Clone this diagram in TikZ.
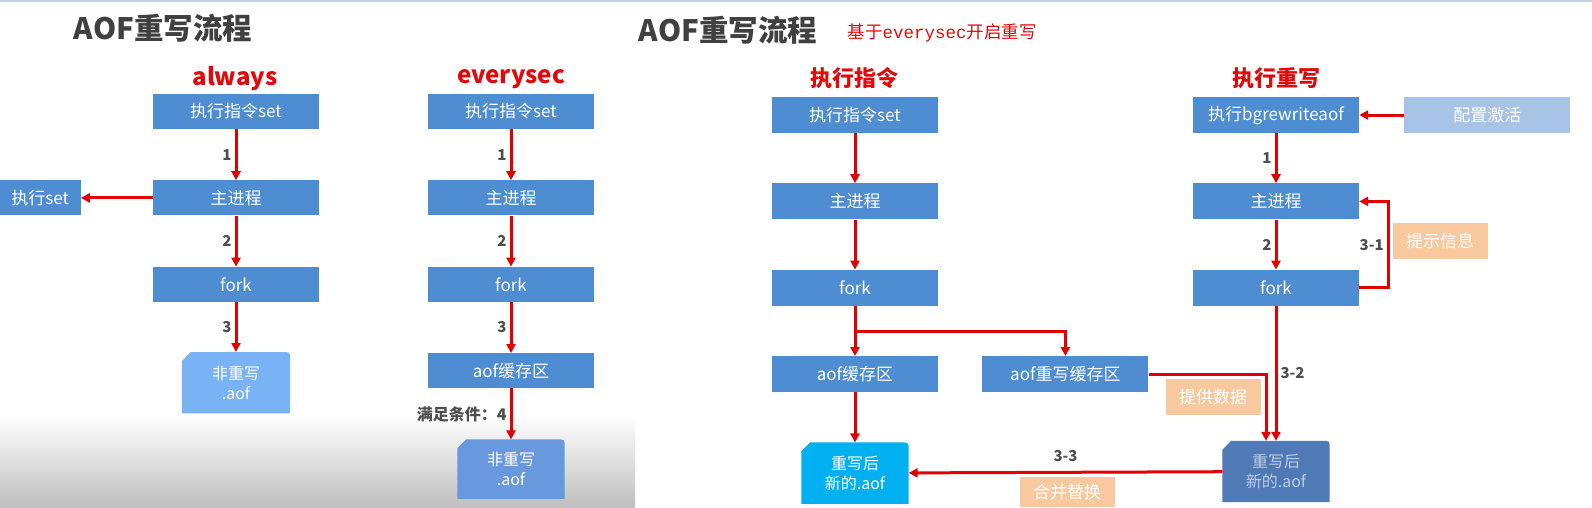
\documentclass[tikz,border=0pt]{standalone}
\usepackage{fontspec}
\setmainfont{Noto Sans CJK SC}
\newfontfamily\monofont{Liberation Mono}
\usetikzlibrary{arrows.meta, positioning, calc, backgrounds}
\definecolor{boxblue}{RGB}{79,141,211}
\definecolor{cfgblue}{RGB}{167,196,230}
\definecolor{docblue}{RGB}{122,178,246}
\definecolor{docdim}{RGB}{104,152,222}
\definecolor{doccyan}{RGB}{0,176,240}
\definecolor{docsteel}{RGB}{79,122,181}
\definecolor{doctext}{RGB}{190,204,228}
\definecolor{notebg}{RGB}{248,201,158}
\definecolor{arrred}{RGB}{228,0,0}
\definecolor{headred}{RGB}{225,10,10}
\definecolor{titlegray}{RGB}{64,64,64}
\definecolor{numgray}{RGB}{78,78,78}
\definecolor{topline}{RGB}{196,208,230}
% document shape: cut top-left, rounded top-right
\newcommand{\docfill}[2]{%
  \fill[#2] (#1.south west) -- ([yshift=-9pt]#1.north west)
    -- ([xshift=9pt]#1.north west) -- ([xshift=-8pt]#1.north east)
    .. controls (#1.north east) .. ([yshift=-8pt]#1.north east)
    -- (#1.south east) -- cycle;}
\tikzset{
  block/.style = {
    rectangle, fill=boxblue, text=white, inner sep=0pt,
    minimum width=#1, minimum height=35pt,
    font=\fontsize{17}{20}\selectfont
  },
  block/.default = 166pt,
  docnode/.style = {
    inner sep=0pt, minimum width=107pt, minimum height=61pt,
    align=center, text=white, font=\fontsize{16}{20}\selectfont
  },
  notebox/.style = {
    rectangle, fill=notebg, text=white, inner sep=0pt,
    minimum width=95pt, minimum height=36pt,
    font=\fontsize{17}{20}\selectfont
  },
  arr/.style  = {-{Triangle[length=9pt,width=9pt]}, draw=arrred, line width=3pt},
  num/.style  = {font=\bfseries\fontsize{15}{17}\selectfont, text=numgray, inner sep=3pt},
  head/.style = {font=\bfseries\fontsize{#1}{26}\selectfont, text=headred},
  head/.default = 24,
  ttl/.style  = {font=\bfseries\fontsize{29.5}{34}\selectfont, text=titlegray},
}
\begin{document}
\begin{tikzpicture}[x=1pt, y=-1pt, node distance=51pt and 44pt]
  \useasboundingbox (0,0) rectangle (1592,507);
  \begin{scope}[on background layer]
    \shade[top color=white, bottom color=black!25] (0,415) rectangle (635,507);
  \end{scope}
  \draw[topline, line width=2pt] (0,1) -- (1592,1);

  % left slide: always / everysec
  \node[ttl] (ttlL) at (163,28) {AOF重写流程};
  \node[head] (hAlw) at (235,79) {always};
  \node[head] (hEvs) at (511,79) {everysec};

  \node[block] (setA) at (236,111.5) {执行指令set};
  \node[block, below=of setA] (mainA) {主进程};
  \node[block, below=of mainA] (forkA) {fork};
  \node[docnode, below=50pt of forkA, minimum width=108pt] (docA) {非重写\\.aof};
  \node[block=81pt, left=72pt of mainA] (runA) {执行set};

  \node[block] (setB) at (511,111.5) {执行指令set};
  \node[block, below=of setB] (mainB) {主进程};
  \node[block, below=of mainB] (forkB) {fork};
  \node[block, below=of forkB] (bufB) {aof缓存区};
  \node[docnode, below=of bufB, minimum height=59pt] (docB) {非重写\\.aof};

  % right slide: rewrite
  \node[ttl] (ttlR) at (728,30) {AOF重写流程};
  \node[text=headred, font=\fontsize{17.5}{20}\selectfont] (sub) at (942,33)
    {基于{\monofont everysec}开启重写};
  \node[head=22] (hCmd) at (854,78) {执行指令};
  \node[head=22] (hRw) at (1276,78) {执行重写};

  \node[block, minimum height=36pt] (setC) at (855,115) {执行指令set};
  \node[block, minimum height=36pt, below=50pt of setC] (mainC) {主进程};
  \node[block, minimum height=36pt, below=50pt of mainC] (forkC) {fork};
  \node[block, minimum height=36pt, below=50pt of forkC] (bufC) {aof缓存区};
  \node[block, minimum height=36pt, right=44pt of bufC] (rbufC) {aof重写缓存区};
  \node[docnode, below=50pt of bufC] (docC) {重写后\\新的.aof};

  \node[block, minimum height=36pt] (bgD) at (1276,115) {执行bgrewriteaof};
  \node[block, minimum height=36pt, fill=cfgblue, right=45pt of bgD] (cfgD) {配置激活};
  \node[block, minimum height=36pt, below=50pt of bgD] (mainD) {主进程};
  \node[block, minimum height=36pt, below=50pt of mainD] (forkD) {fork};
  \node[docnode, text=doctext] (docD) at (1276,471.5) {重写后\\新的.aof};

  \node[notebox] (tipD) at (1440,241) {提示信息};
  \node[notebox] (feedD) at (1213,397) {提供数据};
  \node[notebox, minimum height=30pt] (mergeD) at (1067,492) {合并替换};

  \begin{scope}[on background layer]
    \docfill{docA}{docblue}
    \docfill{docB}{docdim}
    \docfill{docC}{doccyan}
    \docfill{docD}{docsteel}
  \end{scope}

  %% Arrows
  \draw[arr] (setA) -- node[num, left]{1} (mainA);
  \draw[arr] (mainA) -- node[num, left]{2} (forkA);
  \draw[arr] (forkA) -- node[num, left]{3} (docA);
  \draw[arr] (mainA) -- (runA);

  \draw[arr] (setB) -- node[num, left]{1} (mainB);
  \draw[arr] (mainB) -- node[num, left]{2} (forkB);
  \draw[arr] (forkB) -- node[num, left]{3} (bufB);
  \draw[arr] (bufB) -- node[num, left, font=\bfseries\fontsize{16}{18}\selectfont]{满足条件：4} (docB);

  \coordinate (splitC) at ($(forkC.south)!0.5!(bufC.north)$);
  \draw[arr] (setC) -- (mainC);
  \draw[arr] (mainC) -- (forkC);
  \draw[arr] (forkC) -- (bufC);
  \draw[arr] (splitC) -| (rbufC);
  \draw[arr] (bufC) -- (docC);

  \draw[arr] (cfgD) -- (bgD);
  \draw[arr] (bgD) -- node[num, left]{1} (mainD);
  \draw[arr] (mainD) -- node[num, left]{2} (forkD);
  \draw[arr] (forkD.east) -- ++(29,0) |- node[num, left, pos=0.25]{3-1} (mainD.east);
  \draw[arr] (forkD) -- node[num, right, pos=0.5]{3-2} (docD);
  \draw[arr] (rbufC.east) -| ([xshift=-10pt]docD.north);
  \draw[arr] (docD) -- node[num, above=6pt]{3-3} (docC);

\end{tikzpicture}
\end{document}
